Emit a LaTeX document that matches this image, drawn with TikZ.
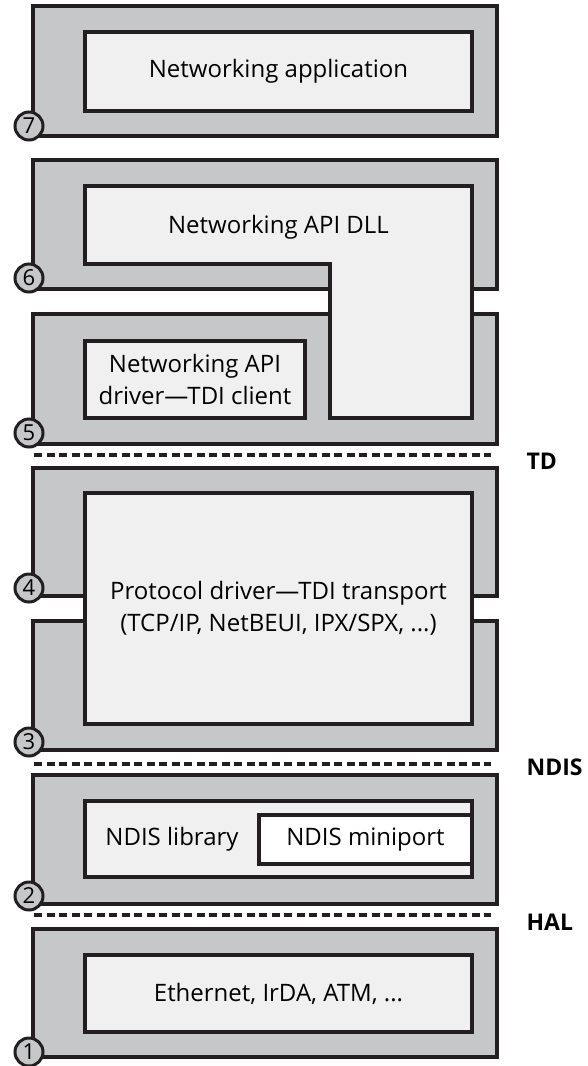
\documentclass[tikz,border=0pt]{standalone}
\usepackage{fontspec}
\setmainfont{Open Sans}
\usetikzlibrary{positioning}

\definecolor{layergray}{HTML}{C6C7C9}
\definecolor{boxgray}{HTML}{F0F0F0}
\definecolor{ink}{HTML}{231F20}

\begin{document}
\begin{tikzpicture}[x=1pt,y=-1pt,line width=4.5pt,
		layer/.style={fill=layergray,draw=ink},
		inner box/.style={draw=ink,fill=boxgray,font=\fontsize{24}{32}\selectfont,align=center,inner sep=0pt},
		label text/.style={font=\fontsize{24}{32}\selectfont,align=center},
		num/.style={circle,draw=ink,fill=layergray,line width=3pt,minimum size=28,inner sep=0pt,font=\fontsize{22}{22}\selectfont},
		sep/.style={draw=ink,line width=3.5pt,dash pattern=on 8pt off 4.5pt},
		api/.style={font=\fontsize{23}{25}\selectfont\bfseries,anchor=west}]

	\useasboundingbox (0,0) rectangle (587,1066);

	% layer 7
	\draw[layer] (33,6) rectangle (497,136);
	\node[inner box,minimum width=387,minimum height=79] (app) at (278.5,71.5) {Networking application};

	% layers 6 and 5, with the dll going through them
	\fill[layergray] (33,160) rectangle (497,289);
	\draw[ink] (330,289) -- (33,289) -- (33,160) -- (497,160) -- (497,289) -- (472,289);
	\fill[layergray] (33,314) rectangle (497,444);
	\draw[ink] (330,314) -- (33,314) -- (33,444) -- (497,444) -- (497,314) -- (472,314);
	\filldraw[fill=boxgray,draw=ink] (85,186) -- (472,186) -- (472,418) -- (330,418) -- (330,264) -- (85,264) -- cycle;
	\node[label text] (dll) at (278.5,227) {Networking API DLL};
	\node[inner box,minimum width=220,minimum height=77] (drv) at (195,379.5) {Networking API\\driver—TDI client};

	\coordinate (td l) at (34,455);
	\coordinate (td r) at (491,455);
	\draw[sep] (td l) -- (td r);
	\node[api,right=30pt of td r,yshift=-6pt] (td) {TD};

	% layers 4 and 3
	\fill[layergray] (33,468) rectangle (497,596);
	\draw[ink] (85,596) -- (33,596) -- (33,468) -- (497,468) -- (497,596) -- (472,596);
	\fill[layergray] (33,621) rectangle (497,750);
	\draw[ink] (85,621) -- (33,621) -- (33,750) -- (497,750) -- (497,621) -- (472,621);
	\node[inner box,minimum width=387,minimum height=231] (proto) at (278.5,608.5) {Protocol driver—TDI transport\\(TCP/IP, NetBEUI, IPX/SPX, ...)};

	\coordinate (ndis l) at (34,764);
	\coordinate (ndis r) at (491,764);
	\draw[sep] (ndis l) -- (ndis r);
	\node[api,right=30pt of ndis r,yshift=-3pt] (ndis) {NDIS};

	% layer 2
	\draw[layer] (33,775) rectangle (497,904);
	\node[inner box,minimum width=387,minimum height=76] (lib) at (278.5,839) {};
	\node[label text] (libtext) at (172,839) {NDIS library};
	\node[inner box,fill=white,minimum width=213,minimum height=49] (mini) at (365.5,839.5) {NDIS miniport};

	\coordinate (hal l) at (34,915);
	\coordinate (hal r) at (491,915);
	\draw[sep] (hal l) -- (hal r);
	\node[api,right=30pt of hal r,yshift=-7pt] (hal) {HAL};

	% layer 1
	\draw[layer] (33,929) rectangle (497,1057);
	\node[inner box,minimum width=387,minimum height=77] (hw) at (278.5,993.5) {Ethernet, IrDA, ATM, ...};

	% numbers
	\node[num] (n7) at (29,126) {7};
	\node[num] (n6) at (29,278) {6};
	\node[num] (n5) at (29,433) {5};
	\node[num] (n4) at (29,588) {4};
	\node[num] (n3) at (29,742) {3};
	\node[num] (n2) at (29,896) {2};
	\node[num] (n1) at (29,1052) {1};
\end{tikzpicture}
\end{document}
